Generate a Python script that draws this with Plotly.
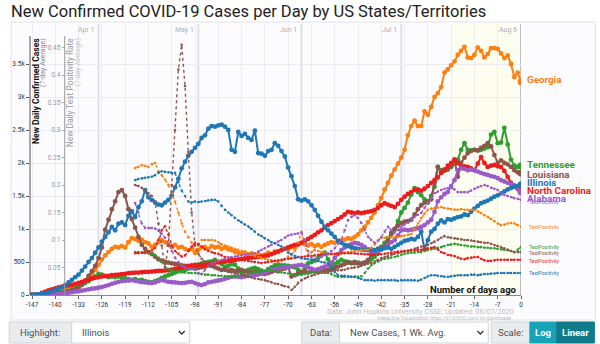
import plotly.graph_objects as go

# ---- data: days ago (x) ----
days = list(range(-147, 1))

# New daily confirmed cases, 7-day average (days -147 .. 0)
il_cases = [0, 5, 10, 15, 25, 40, 55, 75, 95, 120, 150, 190, 230, 270, 310, 370, 430, 500, 560, 640,
            720, 810, 880, 950, 1030, 980, 1080, 1100, 1060, 1200, 1270, 1180, 1330, 1420, 1590, 1480, 1440, 1400, 1370, 1360,
            1400, 1440, 1510, 1630, 1760, 1920, 2020, 2110, 2170, 2230, 2290, 2380, 2420, 2520, 2560, 2550, 2570, 2580, 2550, 2500,
            2200, 2170, 2470, 2410, 2440, 2380, 2350, 2490, 2150, 2140, 2110, 2180, 2200, 2300, 2260, 2180, 2100, 1930, 1800, 1650,
            1450, 1430, 1450, 1420, 1360, 1290, 1200, 1110, 1030, 980, 930, 880, 820, 790, 760, 740, 720, 710, 700, 690,
            680, 680, 690, 680, 700, 690, 710, 720, 700, 730, 760, 790, 820, 830, 850, 840, 880, 960, 690, 830,
            960, 1000, 1080, 1130, 1100, 1150, 1140, 1160, 1180, 1190, 1220, 1210, 1260, 1310, 1350, 1390, 1410, 1430, 1460, 1490,
            1510, 1540, 1570, 1600, 1620, 1640, 1650, 1670]
ga_cases = [0, 5, 10, 15, 20, 30, 40, 50, 60, 70, 90, 110, 130, 150, 170, 190, 210, 240, 300, 380,
            460, 540, 600, 650, 700, 730, 720, 740, 720, 800, 860, 850, 820, 840, 800, 780, 730, 760, 800, 830,
            800, 760, 730, 760, 720, 730, 700, 680, 700, 640, 680, 720, 730, 700, 740, 720, 730, 700, 720, 690,
            680, 650, 640, 620, 640, 610, 630, 600, 620, 600, 610, 640, 620, 660, 650, 680, 700, 690, 730, 720,
            760, 790, 770, 750, 770, 740, 760, 730, 760, 780, 800, 790, 820, 830, 840, 860, 850, 880, 920, 980,
            1030, 1100, 1170, 1250, 1360, 1470, 1600, 1700, 1810, 1900, 1990, 2080, 2200, 2420, 2560, 2640, 2560, 2560, 2780, 2730,
            2850, 3000, 3060, 3150, 3370, 3420, 3480, 3540, 3640, 3700, 3760, 3600, 3590, 3640, 3750, 3700, 3600, 3650, 3740, 3740,
            3730, 3660, 3590, 3630, 3500, 3300, 3370, 3230]
la_cases = [0, 0, 5, 5, 10, 10, 15, 20, 25, 30, 40, 55, 70, 90, 120, 160, 220, 290, 360, 440,
            560, 720, 990, 1140, 1300, 1420, 1560, 1590, 1500, 1300, 1150, 1020, 880, 760, 700, 650, 620, 580, 540, 520,
            500, 490, 480, 470, 460, 450, 440, 420, 410, 400, 410, 420, 430, 450, 440, 420, 400, 380, 390, 370,
            380, 360, 370, 380, 360, 350, 340, 350, 330, 340, 320, 330, 350, 370, 360, 390, 400, 420, 280, 300,
            330, 350, 360, 340, 360, 370, 350, 370, 380, 380, 390, 410, 430, 450, 470, 490, 480, 500, 480, 470,
            490, 530, 600, 680, 700, 720, 740, 820, 940, 1000, 1050, 1090, 1110, 1120, 1140, 1220, 1300, 1360, 1400, 1420,
            1450, 1700, 1940, 1860, 1880, 1900, 1950, 2050, 1790, 2000, 2080, 2150, 2180, 2200, 2190, 2230, 2260, 2300, 2250, 2120,
            2000, 2040, 2000, 1980, 1940, 1890, 1860, 1850]
tn_cases = [0, 0, 0, 5, 5, 10, 15, 20, 30, 40, 50, 60, 80, 100, 120, 150, 180, 210, 250, 280,
            320, 310, 290, 270, 280, 270, 280, 260, 250, 240, 230, 240, 220, 230, 210, 200, 190, 210, 230, 260,
            280, 300, 320, 340, 360, 370, 380, 400, 430, 450, 460, 480, 490, 500, 510, 530, 500, 470, 430, 440,
            470, 460, 400, 340, 360, 380, 400, 410, 390, 370, 350, 390, 420, 450, 460, 450, 450, 440, 430, 420,
            380, 330, 400, 480, 500, 520, 560, 600, 640, 540, 430, 470, 500, 530, 510, 500, 490, 480, 490, 480,
            490, 510, 540, 580, 650, 730, 790, 860, 920, 990, 1120, 1250, 1320, 1400, 1520, 1620, 1560, 1510, 1450, 1400,
            1500, 1640, 1940, 1890, 1900, 1920, 1940, 1990, 2050, 2200, 2300, 2200, 2190, 2200, 2190, 2200, 2220, 2240, 2430, 2470,
            2300, 2310, 2530, 2280, 2050, 1960, 1940, 1960]
nc_cases = [0, 0, 0, 30, 50, 70, 85, 100, 115, 125, 135, 145, 155, 170, 185, 200, 215, 230, 250, 260,
            270, 280, 285, 290, 300, 305, 310, 315, 320, 330, 335, 340, 340, 345, 350, 350, 355, 360, 365, 365,
            370, 375, 385, 395, 405, 415, 425, 440, 450, 455, 450, 460, 455, 470, 480, 490, 495, 500, 505, 515,
            520, 530, 540, 545, 555, 560, 565, 570, 575, 580, 590, 600, 620, 640, 660, 680, 700, 720, 740, 760,
            770, 790, 820, 850, 880, 910, 950, 980, 1020, 1060, 1090, 1120, 1150, 1180, 1220, 1260, 1250, 1240, 1250, 1240,
            1250, 1260, 1270, 1290, 1320, 1360, 1390, 1370, 1350, 1330, 1380, 1440, 1490, 1530, 1560, 1590, 1600, 1580, 1610, 1650,
            1700, 1740, 1780, 1850, 1900, 1960, 2000, 2050, 2000, 1940, 1950, 1940, 1920, 1890, 1990, 2090, 2000, 1940, 1960, 1970,
            1950, 1940, 1880, 1790, 1700, 1640, 1610, 1590]
al_cases = [0, 0, 0, 0, 5, 5, 10, 10, 15, 20, 30, 35, 40, 50, 55, 65, 75, 85, 95, 100,
            110, 120, 135, 150, 170, 185, 200, 210, 215, 220, 225, 215, 205, 195, 190, 185, 180, 190, 210, 225,
            215, 200, 195, 190, 185, 180, 185, 195, 200, 180, 160, 150, 165, 190, 200, 210, 220, 230, 245, 260,
            275, 280, 275, 270, 280, 290, 295, 300, 310, 320, 340, 360, 380, 390, 400, 410, 420, 425, 430, 440,
            450, 455, 440, 420, 400, 380, 390, 410, 430, 450, 490, 560, 620, 680, 720, 750, 770, 790, 780, 760,
            730, 690, 640, 650, 670, 690, 720, 760, 800, 830, 900, 980, 990, 980, 990, 1000, 1010, 1030, 1060, 1100,
            1140, 1260, 1420, 1480, 1530, 1560, 1650, 1740, 1890, 1920, 1910, 1890, 1900, 1890, 1870, 1850, 1830, 1820, 1800, 1790,
            1770, 1740, 1720, 1700, 1680, 1660, 1620, 1560]

# New daily test positivity rate, 7-day average (days -116 .. 0)
tp_days = list(range(-116, 1))
il_tp = [0.209, 0.211, 0.212, 0.213, 0.214, 0.215, 0.218, 0.222, 0.225, 0.224, 0.223, 0.222, 0.222, 0.205, 0.19, 0.18, 0.17, 0.168, 0.17, 0.169,
         0.17, 0.171, 0.172, 0.173, 0.173, 0.17, 0.162, 0.155, 0.15, 0.145, 0.14, 0.136, 0.132, 0.128, 0.125, 0.12, 0.115, 0.11, 0.107, 0.103,
         0.1, 0.096, 0.094, 0.091, 0.088, 0.083, 0.077, 0.074, 0.071, 0.069, 0.067, 0.066, 0.065, 0.064, 0.064, 0.062, 0.06, 0.059, 0.058, 0.05,
         0.042, 0.036, 0.035, 0.035, 0.034, 0.033, 0.033, 0.031, 0.029, 0.027, 0.027, 0.027, 0.026, 0.027, 0.027, 0.027, 0.027, 0.027, 0.027, 0.026,
         0.027, 0.027, 0.027, 0.027, 0.027, 0.026, 0.028, 0.031, 0.034, 0.036, 0.036, 0.035, 0.034, 0.033, 0.033, 0.034, 0.035, 0.036, 0.036, 0.036,
         0.036, 0.037, 0.037, 0.036, 0.037, 0.038, 0.038, 0.039, 0.039, 0.04, 0.04, 0.04, 0.04, 0.04, 0.04, 0.04, 0.04]
ga_tp = [0.231, 0.233, 0.236, 0.235, 0.233, 0.238, 0.24, 0.225, 0.218, 0.21, 0.2, 0.185, 0.17, 0.15, 0.13, 0.115, 0.105, 0.095, 0.08, 0.09,
         0.1, 0.1, 0.1, 0.1, 0.099, 0.096, 0.092, 0.09, 0.088, 0.086, 0.084, 0.082, 0.08, 0.078, 0.076, 0.073, 0.071, 0.069, 0.067, 0.066,
         0.064, 0.063, 0.062, 0.06, 0.062, 0.066, 0.07, 0.073, 0.08, 0.095, 0.115, 0.09, 0.073, 0.078, 0.082, 0.08, 0.078, 0.076, 0.075, 0.074,
         0.073, 0.075, 0.076, 0.077, 0.078, 0.079, 0.08, 0.081, 0.082, 0.082, 0.082, 0.086, 0.092, 0.098, 0.104, 0.104, 0.105, 0.105, 0.105, 0.106,
         0.107, 0.108, 0.109, 0.111, 0.12, 0.13, 0.14, 0.148, 0.155, 0.157, 0.158, 0.159, 0.16, 0.158, 0.157, 0.156, 0.155, 0.155, 0.156, 0.155,
         0.155, 0.155, 0.155, 0.152, 0.149, 0.145, 0.142, 0.138, 0.134, 0.13, 0.127, 0.128, 0.13, 0.131, 0.13, 0.127, 0.124]
la_tp = [0.2, 0.198, 0.195, 0.19, 0.185, 0.18, 0.17, 0.13, 0.09, 0.05, 0.09, 0.2, 0.3, 0.41, 0.455, 0.38, 0.26, 0.15, 0.09, 0.075,
         0.066, 0.06, 0.056, 0.052, 0.05, 0.047, 0.045, 0.044, 0.042, 0.041, 0.04, 0.039, 0.037, 0.035, 0.033, 0.032, 0.03, 0.029, 0.028, 0.027,
         0.025, 0.023, 0.021, 0.02, 0.018, 0.016, 0.015, 0.009, 0.015, 0.022, 0.027, 0.03, 0.033, 0.035, 0.037, 0.039, 0.04, 0.041, 0.042, 0.043,
         0.044, 0.045, 0.045, 0.046, 0.048, 0.049, 0.05, 0.051, 0.053, 0.055, 0.057, 0.058, 0.061, 0.064, 0.067, 0.069, 0.071, 0.073, 0.075, 0.076,
         0.078, 0.079, 0.081, 0.082, 0.084, 0.086, 0.088, 0.089, 0.091, 0.094, 0.097, 0.1, 0.104, 0.107, 0.105, 0.104, 0.103, 0.102, 0.101, 0.1,
         0.1, 0.099, 0.098, 0.097, 0.096, 0.095, 0.095, 0.093, 0.091, 0.089, 0.087, 0.085, 0.082, 0.08, 0.078, 0.078, 0.078]
tn_tp = [0.078, 0.078, 0.077, 0.076, 0.076, 0.075, 0.073, 0.068, 0.06, 0.051, 0.047, 0.045, 0.043, 0.042, 0.041, 0.041, 0.04, 0.04, 0.04, 0.039,
         0.038, 0.037, 0.037, 0.036, 0.036, 0.035, 0.035, 0.034, 0.034, 0.033, 0.034, 0.035, 0.036, 0.037, 0.038, 0.04, 0.041, 0.042, 0.043, 0.044,
         0.045, 0.045, 0.044, 0.043, 0.041, 0.04, 0.039, 0.038, 0.037, 0.036, 0.037, 0.038, 0.04, 0.041, 0.041, 0.042, 0.042, 0.041, 0.04, 0.038,
         0.035, 0.033, 0.033, 0.033, 0.033, 0.033, 0.033, 0.033, 0.034, 0.04, 0.048, 0.054, 0.058, 0.061, 0.064, 0.066, 0.067, 0.068, 0.069, 0.071,
         0.073, 0.075, 0.076, 0.077, 0.077, 0.078, 0.078, 0.08, 0.082, 0.083, 0.084, 0.086, 0.087, 0.089, 0.091, 0.092, 0.093, 0.092, 0.091, 0.09,
         0.089, 0.088, 0.088, 0.087, 0.087, 0.086, 0.086, 0.085, 0.085, 0.084, 0.083, 0.082, 0.082, 0.08, 0.078, 0.082, 0.087]
nc_tp = [0.076, 0.076, 0.077, 0.078, 0.079, 0.081, 0.086, 0.1, 0.118, 0.125, 0.11, 0.09, 0.08, 0.075, 0.07, 0.072, 0.08, 0.088, 0.095, 0.092,
         0.088, 0.083, 0.08, 0.078, 0.076, 0.075, 0.072, 0.069, 0.068, 0.067, 0.066, 0.065, 0.064, 0.063, 0.062, 0.061, 0.06, 0.059, 0.058, 0.059,
         0.06, 0.061, 0.062, 0.063, 0.064, 0.065, 0.066, 0.067, 0.068, 0.069, 0.069, 0.07, 0.071, 0.071, 0.072, 0.073, 0.073, 0.074, 0.074, 0.075,
         0.075, 0.075, 0.076, 0.076, 0.076, 0.076, 0.076, 0.075, 0.075, 0.074, 0.074, 0.073, 0.073, 0.073, 0.074, 0.075, 0.076, 0.077, 0.078, 0.079,
         0.079, 0.08, 0.08, 0.081, 0.081, 0.082, 0.082, 0.083, 0.085, 0.086, 0.087, 0.083, 0.078, 0.076, 0.073, 0.072, 0.071, 0.068, 0.066, 0.065,
         0.067, 0.068, 0.069, 0.069, 0.066, 0.063, 0.062, 0.062, 0.063, 0.064, 0.064, 0.064, 0.064, 0.064, 0.064, 0.064, 0.064]
al_tp = [0.167, 0.15, 0.13, 0.122, 0.122, 0.122, 0.121, 0.117, 0.111, 0.104, 0.095, 0.08, 0.068, 0.06, 0.053, 0.05, 0.048, 0.047, 0.046, 0.04,
         0.038, 0.046, 0.052, 0.057, 0.06, 0.062, 0.064, 0.066, 0.068, 0.069, 0.07, 0.071, 0.072, 0.073, 0.074, 0.075, 0.076, 0.079, 0.082, 0.085,
         0.088, 0.091, 0.094, 0.097, 0.1, 0.104, 0.108, 0.11, 0.111, 0.112, 0.113, 0.1, 0.08, 0.068, 0.064, 0.066, 0.07, 0.073, 0.076, 0.08,
         0.085, 0.093, 0.1, 0.118, 0.136, 0.142, 0.145, 0.14, 0.131, 0.118, 0.106, 0.1, 0.095, 0.099, 0.105, 0.115, 0.124, 0.118, 0.113, 0.118,
         0.124, 0.128, 0.131, 0.137, 0.142, 0.146, 0.149, 0.158, 0.167, 0.176, 0.185, 0.188, 0.191, 0.193, 0.194, 0.195, 0.192, 0.187, 0.187, 0.187,
         0.187, 0.19, 0.193, 0.196, 0.198, 0.2, 0.198, 0.195, 0.193, 0.191, 0.186, 0.182, 0.18, 0.178, 0.176, 0.175, 0.173]

# axis ticks
x_ticks = list(range(-147, 1, 7))
case_ticks = [0, 500, 1000, 1500, 2000, 2500, 3000, 3500]
case_tick_text = ["0", "500", "1k", "1.5k", "2k", "2.5k", "3k", "3.5k"]
tp_ticks = [0.05, 0.1, 0.15, 0.2, 0.25, 0.3, 0.35, 0.4, 0.45]
tp_tick_text = ["0.05", "0.1", "0.15", "0.2", "0.25", "0.3", "0.35", "0.4", "0.45"]
month_days = [-127, -97, -66, -36, 0]
month_names = ["Apr 1", "May 1", "Jun 1", "Jul 1", "Aug 6"]

states = ["Georgia", "Tennessee", "Louisiana", "North Carolina", "Alabama", "Illinois"]
colors = ["#ff7f0e", "#2ca02c", "#8c564b", "#ec1c1c", "#9a5bc9", "#1f77b4"]
cases = [ga_cases, tn_cases, la_cases, nc_cases, al_cases, il_cases]
tps = [ga_tp, tn_tp, la_tp, nc_tp, al_tp, il_tp]
name_shift = [2, 1, -2, 0, -6, 2]
tp_shift = [0, 0, -1, -1, -2, 0]

# ---- geometry (pixels) ----
W, H = 600, 344
ML, MR, MT, MB = 26, 79, 24, 49
PW = W - ML - MR
PH = H - MT - MB
CASE_PER_PX = 500 / 33.0
TP_PER_PX = 0.05 / 27.5
Y_MAX = PH * CASE_PER_PX
Y2_MAX = PH * TP_PER_PX


def px(x):
    return (x - ML) / PW


def py(y):
    return (H - MB - y) / PH


FONT = "Roboto"
fig = go.Figure()

# test positivity (dotted, secondary axis)
for name, col, tp, sh in zip(states, colors, tps, tp_shift):
    fig.add_trace(go.Scatter(
        x=tp_days, y=tp, yaxis="y2", mode="lines+markers",
        line=dict(color=col, width=1.4, dash="dot"),
        marker=dict(color=col, size=2.6), hoverinfo="skip", showlegend=False))

# confirmed cases (solid, primary axis)
for name, col, cs in zip(states, colors, cases):
    fig.add_trace(go.Scatter(
        x=days, y=cs, mode="lines+markers",
        line=dict(color=col, width=2),
        marker=dict(color=col, size=4.8), name=name, showlegend=False))
    fig.add_trace(go.Scatter(
        x=days[-1:], y=cs[-1:], mode="markers",
        marker=dict(color=col, size=7), hoverinfo="skip", showlegend=False))

ann = []
for name, col, cs, tp, sh, tsh in zip(states, colors, cases, tps, name_shift, tp_shift):
    ann.append(dict(x=0, y=cs[-1], xref="x", yref="y", text="<b>%s</b>" % name,
                    showarrow=False, xanchor="left", yanchor="middle", xshift=4, yshift=sh,
                    font=dict(family=FONT, size=9.8, color=col)))
    ann.append(dict(x=0, y=tp[-1], xref="x", yref="y2", text="TestPositivity",
                    showarrow=False, xanchor="left", yanchor="middle", xshift=6, yshift=tsh,
                    font=dict(family=FONT, size=5, color=col)))

for d, m in zip(month_days, month_names):
    ann.append(dict(x=d, y=py(30), xref="x", yref="paper", text=m, showarrow=False,
                    xanchor="right", yanchor="middle", xshift=-2,
                    font=dict(family=FONT, size=7, color="#b0b0b0")))

# axis titles drawn inside the plot
ann += [
    dict(x=px(32), y=py(36), xref="paper", yref="paper", text="<b>New Daily Confirmed Cases</b>",
         textangle=-90, showarrow=False, xanchor="center", yanchor="top",
         font=dict(family=FONT, size=8.5, color="#111")),
    dict(x=px(39.5), y=py(36), xref="paper", yref="paper", text="(7-day Average)",
         textangle=-90, showarrow=False, xanchor="center", yanchor="top",
         font=dict(family=FONT, size=7, color="#888")),
    dict(x=px(67), y=py(36), xref="paper", yref="paper", text="New Daily Test Positivity Rate",
         textangle=-90, showarrow=False, xanchor="center", yanchor="top",
         font=dict(family=FONT, size=8.3, color="#9a9a9a")),
    dict(x=px(74.5), y=py(36), xref="paper", yref="paper", text="(7-day Average)",
         textangle=-90, showarrow=False, xanchor="center", yanchor="top",
         font=dict(family=FONT, size=7, color="#c4c4c4")),
    dict(x=px(519), y=py(289), xref="paper", yref="paper", text="<b>Number of days ago</b>",
         showarrow=False, xanchor="right", yanchor="middle",
         font=dict(family=FONT, size=9.5, color="#111")),
    dict(x=px(516), y=py(311.5), xref="paper", yref="paper",
         text="Data: John Hopkins University CSSE; Updated: 08/07/2020",
         showarrow=False, xanchor="right", yanchor="middle",
         font=dict(family=FONT, size=7.2, color="#bdbdbd")),
    dict(x=px(516), y=py(317.5), xref="paper", yref="paper",
         text="Interactive Visualization: https://91-DIVOC.com/ by @profwade_",
         showarrow=False, xanchor="right", yanchor="middle",
         font=dict(family=FONT, size=4.8, color="#bdbdbd")),
    dict(x=px(5), y=py(12), xref="paper", yref="paper",
         text="New Confirmed COVID-19 Cases per Day by US States/Territories",
         showarrow=False, xanchor="left", yanchor="middle",
         font=dict(family=FONT, size=16.5, color="#222")),
]

shapes = [
    # chart frame
    dict(type="rect", xref="paper", yref="paper", x0=px(7), x1=px(596), y0=py(320), y1=py(22),
         line=dict(color="#e2e2e8", width=1), fillcolor="#fcfcff", layer="below"),
    # recent-weeks tint
    dict(type="rect", xref="x", yref="paper", x0=-21, x1=0, y0=0, y1=1,
         line=dict(width=0), fillcolor="rgba(255,255,205,0.3)", layer="below"),
]
for d in month_days[:-1]:
    shapes.append(dict(type="line", xref="x", yref="paper", x0=d, x1=d, y0=0, y1=1,
                       line=dict(color="#e0e0e8", width=2), layer="below"))
shapes.append(dict(type="line", xref="x", yref="paper", x0=0, x1=0, y0=0, y1=1,
                   line=dict(color="#a9a9c2", width=1.5), layer="below"))
# secondary axis line
y2pos = px(61)
shapes.append(dict(type="line", xref="paper", yref="paper", x0=y2pos, x1=y2pos, y0=0, y1=py(36),
                   line=dict(color="#9a9a9a", width=1)))
shapes.append(dict(type="line", xref="paper", yref="paper", x0=0, x1=0, y0=0, y1=py(36),
                   line=dict(color="#555", width=1)))


# ---- control bar under the chart ----
def box(x0, x1, fill, line="#ced4da"):
    shapes.append(dict(type="rect", xref="paper", yref="paper", x0=px(x0), x1=px(x1),
                       y0=py(343), y1=py(322), line=dict(color=line, width=1), fillcolor=fill))


def label(x, text, color="#495057", anchor="left", bold=False, size=9.5):
    t = "<b>%s</b>" % text if bold else text
    ann.append(dict(x=px(x), y=py(332.5), xref="paper", yref="paper", text=t, showarrow=False,
                    xanchor=anchor, yanchor="middle", font=dict(family=FONT, size=size, color=color)))


def chevron(x):
    shapes.append(dict(type="path", xref="paper", yref="paper",
                       path="M %f %f L %f %f L %f %f" % (px(x - 3), py(331), px(x), py(334),
                                                        px(x + 3), py(331)),
                       line=dict(color="#333", width=1.3)))


box(5, 68, "#e9ecef")
box(68, 187, "#ffffff")
label(36.5, "Highlight:", anchor="center")
label(76, "Illinois")
chevron(179)
box(300, 338, "#e9ecef")
box(338, 488, "#ffffff")
label(319, "Data:", anchor="center")
label(347, "New Cases, 1 Wk. Avg.")
chevron(480)
box(491, 530, "#e9ecef")
label(510.5, "Scale:", anchor="center")
box(530, 557, "#17a2b8", line="#17a2b8")
box(557, 595, "#117a8b", line="#117a8b")
label(543.5, "Log", color="#ffffff", anchor="center", bold=True)
label(576, "Linear", color="#ffffff", anchor="center", bold=True)

fig.update_layout(
    width=W, height=H,
    margin=dict(l=ML, r=MR, t=MT, b=MB, pad=0),
    paper_bgcolor="#ffffff", plot_bgcolor="#fcfcff",
    showlegend=False,
    xaxis=dict(range=[-147.6, 0], tickvals=x_ticks, ticktext=[str(t) for t in x_ticks],
               showgrid=True, gridcolor="#ececf2", gridwidth=1, zeroline=False,
               showline=True, linecolor="#888", linewidth=1,
               ticks="outside", ticklen=3, tickcolor="#666",
               tickfont=dict(family=FONT, size=6.5, color="#333")),
    yaxis=dict(range=[0, Y_MAX], tickvals=case_ticks, ticktext=case_tick_text,
               showgrid=True, gridcolor="#ececf2", gridwidth=1, zeroline=False,
               showline=False, ticks="outside", ticklen=3, tickcolor="#555",
               tickfont=dict(family=FONT, size=6.5, color="#333")),
    yaxis2=dict(range=[0, Y2_MAX], overlaying="y", anchor="free", position=y2pos, side="left",
                tickvals=tp_ticks, ticktext=tp_tick_text, showgrid=False, zeroline=False,
                showline=False, ticks="outside", ticklen=3, tickcolor="#aaa",
                tickfont=dict(family=FONT, size=6.5, color="#9a9a9a")),
    annotations=ann, shapes=shapes,
)

fig.write_html("out.html")
